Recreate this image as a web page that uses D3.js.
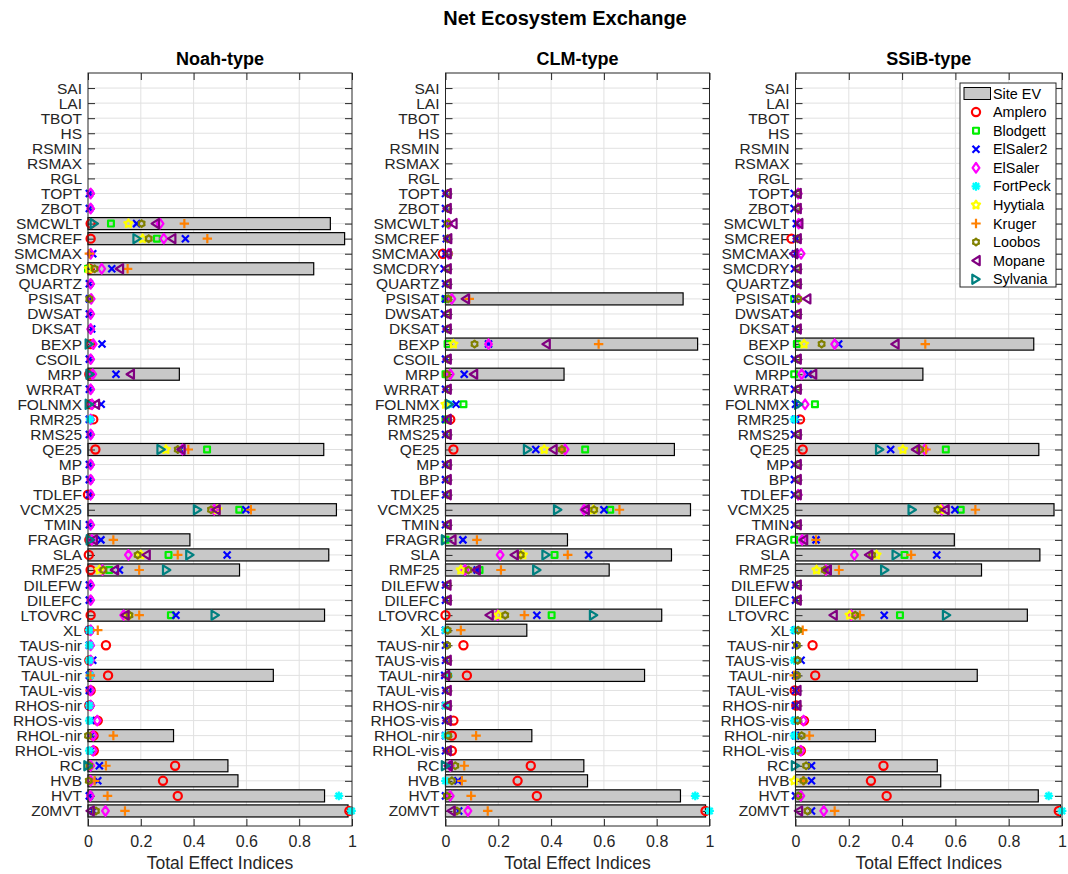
<!DOCTYPE html>
<html>
<head>
<meta charset="utf-8">
<script src="https://cdn.jsdelivr.net/npm/d3@7"></script>
<style>
  html, body { margin: 0; padding: 0; background: #fff; }
  svg { display: block; font-family: "Liberation Sans", Arial, Helvetica, sans-serif; }
</style>
</head>
<body>
<svg id="chart" width="1068" height="874"></svg>
<script>
// Parameter names, top to bottom
const categories = ["SAI","LAI","TBOT","HS","RSMIN","RSMAX","RGL","TOPT","ZBOT","SMCWLT","SMCREF","SMCMAX","SMCDRY","QUARTZ","PSISAT","DWSAT","DKSAT","BEXP","CSOIL","MRP","WRRAT","FOLNMX","RMR25","RMS25","QE25","MP","BP","TDLEF","VCMX25","TMIN","FRAGR","SLA","RMF25","DILEFW","DILEFC","LTOVRC","XL","TAUS-nir","TAUS-vis","TAUL-nir","TAUL-vis","RHOS-nir","RHOS-vis","RHOL-nir","RHOL-vis","RC","HVB","HVT","Z0MVT"];
// Parameters that carry index values (TOPT .. Z0MVT); SAI..RGL have none
const valuedParams = categories.slice(categories.indexOf("TOPT"));

const sites = ["Amplero","Blodgett","ElSaler2","ElSaler","FortPeck","Hyytiala","Kruger","Loobos","Mopane","Sylvania"];
const siteColors = ["#ff0000","#00ee00","#0000ff","#ff00ff","#00ffff","#ffff00","#ff8000","#808000","#800080","#008080"];
const siteMarkers = ["circle","square","x","diamond","asterisk","pentagram","plus","hexagram","triangleLeft","triangleRight"];
const panelTitles = ["Noah-type","CLM-type","SSiB-type"];
const xTicks = [0, 0.2, 0.4, 0.6, 0.8, 1];

// ---- Noah-type ----
const noahEV = [0,0,0.918,0.972,0,0.855,0,0,0,0, 0,0,0.346,0,0,0,0,0.893,0,0, 0,0.941,0,0.386,0.912,0.574,0,0,0.896,0, 0,0,0.702,0,0,0,0.324,0,0.530,0.568, 0.896,0.985];
const noahAmplero = [null,null,0.01,0.01,null,0.005,null,null,null,null, 0.01,null,0.005,null,0.01,0.02,null,0.028,null,null, 0.0,null,null,0.005,0.003,0.01,null,null,0.01,0.005, 0.068,0.005,0.076,0.01,0.005,0.037,0.021,0.022,0.33,0.284, 0.34,0.99];
const noahBlodgett = [null,null,0.087,0.261,null,0.0,null,null,null,null, null,null,null,null,null,null,null,0.451,null,null, null,0.573,null,null,0.305,0.08,null,null,0.314,null, null,null,null,null,null,null,null,null,null,null, null,null];
const noahElSaler2 = [0.005,0.005,0.184,0.369,0.018,0.09,0.005,0.005,0.005,0.014, 0.053,0.005,0.106,0.005,0.05,0.005,0.005,0.35,0.005,0.005, 0.005,0.598,0.005,0.049,0.527,0.119,0.005,0.005,0.333,0.005, 0.005,0.018,0.005,0.005,0.005,0.01,0.01,0.01,0.043,0.037, 0.005,0.02];
const noahElSaler = [0.01,0.01,0.273,0.287,0.01,0.052,0.01,0.012,0.01,0.01, 0.02,0.01,0.018,0.01,0.015,0.01,0.01,0.358,0.01,0.01, 0.01,0.478,0.01,0.015,0.153,0.055,0.01,0.01,0.135,0.01, 0.01,0.01,0.01,0.01,0.01,0.035,0.02,0.02,0.01,0.01, 0.009,0.066];
const noahFortPeck = [null,null,null,null,null,null,null,null,null,null, null,null,null,null,null,0.008,null,null,null,null, null,null,null,null,null,null,null,null,null,0.005, 0.005,0.005,0.008,null,0.005,0.005,null,0.005,null,null, 0.95,0.998];
const noahHyytiala = [null,null,0.153,0.207,null,0.003,null,null,null,null, null,null,null,null,null,null,null,0.295,null,null, null,0.49,null,null,0.2,0.043,null,null,0.15,null, null,null,null,null,null,null,null,null,null,null, null,null];
const noahKruger = [null,null,0.365,0.452,0.005,0.15,null,null,null,null, null,null,null,null,null,null,null,0.38,null,null, null,0.617,null,0.096,0.34,0.194,null,null,0.194,0.037, null,null,0.009,null,null,null,0.096,null,0.068,0.025, 0.074,0.14];
const noahLoobos = [null,null,0.203,0.23,null,0.025,null,0.005,null,null, null,null,null,null,null,null,null,0.34,null,null, null,0.466,null,null,0.188,0.058,null,null,0.157,null, null,null,null,null,null,null,0.0,null,0.005,0.003, null,0.03];
const noahMopane = [null,null,0.255,0.317,null,0.119,null,null,null,null, null,null,0.16,null,0.028,null,null,0.352,null,null, null,0.485,null,0.02,0.22,0.1,null,null,0.14,null, null,null,null,null,null,null,null,null,null,null, null,0.008];
const noahSylvania = [null,null,0.024,0.186,null,null,null,null,null,null, 0.005,null,0.008,null,0.005,null,null,0.277,null,null, null,0.415,null,0.009,0.386,0.298,null,null,0.482,null, null,null,null,null,null,null,null,null,0.0,null, null,null];

// ---- CLM-type ----
const clmEV = [0,0,0,0,0,0,0,0.90,0,0, 0.955,0,0.449,0,0,0,0,0.867,0,0, 0,0.928,0,0.462,0.856,0.62,0,0,0.819,0.308, 0,0,0.754,0,0,0,0.327,0,0.524,0.538, 0.89,0.985];
const clmAmplero = [null,null,null,null,-0.01,null,null,null,null,null, null,null,null,null,null,0.018,null,0.03,null,null, null,null,null,null,null,null,null,null,0.0,null, 0.068,null,0.081,null,null,0.03,0.024,0.024,0.323,0.273, 0.346,0.985];
const clmBlodgett = [null,null,null,null,null,null,null,0.0,null,null, 0.008,null,0.0,null,0.068,0.0,null,0.529,null,null, null,0.624,null,0.0,0.413,0.129,null,null,0.402,null, null,null,null,null,null,null,null,null,null,null, null,null];
const clmElSaler2 = [0.0,0.0,0.0,0.003,0.0,-0.005,0.0,0.0,-0.004,0.0, 0.163,0.0,0.071,0.0,0.04,0.0,0.0,0.342,0.0,0.0, 0.0,0.6,0.0,0.066,0.542,0.12,0.0,0.0,0.346,0.0, 0.0,0.0,-0.003,0.0,0.0,0.0,0.0,0.0,0.01,0.047, 0.0,0.05];
const clmElSaler = [null,null,0.012,null,0.012,null,null,0.024,null,null, 0.163,null,0.018,null,null,null,null,0.453,null,null, null,0.525,null,null,0.207,0.074,null,null,0.197,null, null,null,null,null,null,null,null,null,0.018,null, 0.018,0.085];
const clmFortPeck = [null,null,null,null,null,null,null,null,null,null, null,null,null,null,0.012,null,null,null,null,null, null,null,null,null,null,null,null,null,null,0.0, null,null,0.01,null,0.0,null,0.0,null,null,0.0, 0.946,1.0];
const clmHyytiala = [null,null,null,null,null,null,null,null,null,null, 0.03,null,null,null,0.0,null,null,0.374,null,null, null,0.56,null,null,0.293,0.058,null,null,0.2,null, null,null,null,null,null,null,null,null,null,null, null,null];
const clmKruger = [null,null,null,null,null,null,null,0.09,null,null, 0.58,null,null,null,null,null,null,0.44,null,null, null,0.659,null,0.119,0.463,0.21,null,null,0.299,0.058, null,null,null,null,null,null,0.116,null,0.071,0.062, 0.097,0.16];
const clmLoobos = [0.008,0.008,0.008,0.008,0.012,0.008,0.008,0.01,0.008,0.008, 0.11,0.008,0.005,0.008,null,0.008,0.008,0.441,0.008,0.008, 0.008,0.563,0.008,null,0.285,0.087,0.008,0.008,0.226,0.008, 0.006,0.008,0.01,0.008,0.008,0.008,0.01,0.008,0.037,0.024, 0.005,0.043];
const clmMopane = [0.006,0.006,0.028,0.008,0.006,0.006,0.006,0.075,0.006,0.006, 0.381,0.006,0.106,0.006,null,0.006,0.006,0.407,0.006,0.006, 0.006,0.529,0.006,0.024,0.26,0.116,0.005,0.006,0.165,null, null,0.006,0.0,0.006,0.006,0.006,null,0.006,0.01,null, null,0.021];
const clmSylvania = [null,null,null,null,null,null,null,null,null,null, null,null,null,null,0.015,null,null,0.311,null,null, null,0.425,null,0.0,0.381,0.346,null,null,0.561,null, null,null,null,null,null,null,null,null,0.0,null, null,null];

// ---- SSiB-type ----
const ssibEV = [0,0,0,0,0,0,0,0,0,0, 0.894,0,0.478,0,0,0,0,0.913,0,0, 0,0.97,0,0.596,0.917,0.698,0,0,0.87,0, 0,0,0.682,0,0,0,0.30,0,0.532,0.545, 0.911,0.994];
const ssibAmplero = [null,null,null,-0.015,null,null,null,null,null,null, null,null,null,null,null,0.017,null,0.027,null,null, null,null,null,null,null,null,null,null,null,null, 0.064,null,0.074,-0.003,0.003,0.032,null,0.02,0.33,0.283, 0.342,0.988];
const ssibBlodgett = [null,null,null,null,null,null,null,-0.005,null,null, 0.005,null,-0.005,null,0.073,null,null,0.564,null,null, null,0.62,null,-0.005,0.409,0.12,null,null,0.392,null, null,null,null,null,null,null,null,null,null,null, null,null];
const ssibElSaler2 = [-0.005,-0.005,0.003,0.003,0.0,-0.004,-0.004,0.0,-0.004,0.0, 0.162,-0.004,0.048,-0.004,0.0,0.0,-0.004,0.357,-0.004,-0.004, -0.004,0.598,-0.004,0.077,0.53,0.12,0.0,0.0,0.333,0.0, 0.0,0.021,0.0,0.0,0.0,0.0,0.0,0.0,0.06,0.06, 0.0,0.06];
const ssibElSaler = [0.01,0.01,0.012,null,0.021,null,null,0.012,null,null, 0.147,null,0.023,null,0.036,null,null,0.485,null,null, 0.01,0.549,null,0.025,0.221,0.114,null,null,0.209,null, null,null,null,null,null,0.03,null,0.02,null,null, 0.02,0.106];
const ssibFortPeck = [null,null,null,null,null,null,null,null,null,null, null,null,null,null,null,-0.005,null,null,null,null, null,null,null,null,null,null,null,null,null,-0.005, null,-0.005,null,null,null,-0.005,-0.005,-0.005,null,null, 0.95,1.0];
const ssibHyytiala = [null,null,null,null,null,null,null,null,null,null, 0.032,null,null,null,null,null,null,0.403,null,null, null,0.545,null,null,0.304,0.079,null,null,0.203,null, null,null,null,null,null,null,null,null,null,-0.005, null,null];
const ssibKruger = [null,null,null,null,null,null,null,null,null,null, 0.487,null,null,null,null,null,null,0.49,null,null, null,0.675,null,0.077,0.434,0.163,null,null,0.242,0.027, null,null,-0.005,null,null,null,0.052,null,null,0.03, null,0.147];
const ssibLoobos = [0.008,0.008,null,0.008,null,0.008,0.008,0.01,0.008,0.008, 0.098,0.008,null,0.008,null,null,0.008,0.468,0.008,0.008, 0.008,0.533,0.008,null,0.287,0.11,0.008,0.008,0.224,0.01, 0.005,0.008,0.005,null,null,0.008,0.023,0.01,0.04,0.03, 0.01,0.045];
const ssibMopane = [0.006,0.006,0.012,0.006,-0.007,0.006,0.006,0.042,0.006,0.006, 0.373,0.006,0.064,0.006,null,null,0.006,0.45,0.006,0.006, 0.006,0.561,0.006,0.03,0.274,0.119,0.006,0.006,0.141,null, null,null,null,0.005,0.005,null,null,null,null,null, null,0.011];
const ssibSylvania = [null,null,null,null,null,null,null,null,null,null, null,null,null,null,0.012,null,null,0.316,null,null, null,0.438,null,null,0.378,0.335,null,null,0.567,null, null,null,null,null,null,null,null,null,0.0,null, null,null];

// Panel table assembled from the arrays above
const panels = [
  { title: panelTitles[0], ev: noahEV, series: [noahAmplero, noahBlodgett, noahElSaler2, noahElSaler, noahFortPeck, noahHyytiala, noahKruger, noahLoobos, noahMopane, noahSylvania] },
  { title: panelTitles[1], ev: clmEV,  series: [clmAmplero, clmBlodgett, clmElSaler2, clmElSaler, clmFortPeck, clmHyytiala, clmKruger, clmLoobos, clmMopane, clmSylvania] },
  { title: panelTitles[2], ev: ssibEV, series: [ssibAmplero, ssibBlodgett, ssibElSaler2, ssibElSaler, ssibFortPeck, ssibHyytiala, ssibKruger, ssibLoobos, ssibMopane, ssibSylvania] }
];

// ---- layout ----
const plotTop = 73, plotBottom = 826;
const panelX = [[88, 352], [445.5, 709.5], [795.5, 1062]];
const axisColor = "#262626";
const gridColor = "#e1e1e1";

// star outline helper
function starPath(points, rOuter, rInner) {
  const pts = [];
  for (let i = 0; i < points * 2; i++) {
    const r = i % 2 === 0 ? rOuter : rInner;
    const a = -Math.PI / 2 + i * Math.PI / points;
    pts.push([r * Math.cos(a), r * Math.sin(a)]);
  }
  return "M" + pts.map(p => p[0].toFixed(2) + "," + p[1].toFixed(2)).join("L") + "Z";
}
const markerPaths = {
  circle: "M4.1,0A4.1,4.1 0 1,1 -4.1,0A4.1,4.1 0 1,1 4.1,0Z",
  square: "M-2.9,-2.9H2.9V2.9H-2.9Z",
  x: "M-3.5,-3.5L3.5,3.5M-3.5,3.5L3.5,-3.5",
  diamond: "M0,-4.8L3.4,0L0,4.8L-3.4,0Z",
  asterisk: "M0,-4.4V4.4M-4.4,0H4.4M-3.2,-3.2L3.2,3.2M-3.2,3.2L3.2,-3.2",
  pentagram: starPath(5, 4.3, 2.3),
  plus: "M0,-4.7V4.7M-4.7,0H4.7",
  hexagram: starPath(6, 3.4, 2.6),
  triangleLeft: "M-3.7,0L3.7,-4.6L3.7,4.6Z",
  triangleRight: "M3.7,0L-3.7,-4.6L-3.7,4.6Z"
};

const svg = d3.select("#chart");

// Figure title
svg.append("text")
  .attr("x", 565).attr("y", 24.5)
  .attr("text-anchor", "middle")
  .attr("font-size", "20px").attr("font-weight", "bold").attr("fill", "#000")
  .text("Net Ecosystem Exchange");

// Row positions: rows sit at 1..49 on a 0..50 axis
const yLin = d3.scaleLinear().domain([0, categories.length + 1]).range([plotTop, plotBottom]);
const y = d3.scalePoint().domain(categories).range([yLin(1), yLin(categories.length)]).padding(0);
const barH = (yLin(1) - yLin(0)) * 0.8;

panels.forEach((panel, pi) => {
  const [x0, x1] = panelX[pi];
  const x = d3.scaleLinear().domain([0, 1]).range([x0, x1]);
  const g = svg.append("g");

  // grid
  const grid = g.append("g").attr("stroke", gridColor).attr("stroke-width", 1);
  grid.selectAll("line.v").data(xTicks.slice(1, -1)).join("line")
    .attr("x1", d => x(d)).attr("x2", d => x(d))
    .attr("y1", plotTop).attr("y2", plotBottom);
  grid.selectAll("line.h").data(categories).join("line")
    .attr("x1", x0).attr("x2", x1)
    .attr("y1", d => y(d)).attr("y2", d => y(d));

  // site EV bars
  const evData = valuedParams.map((p, j) => ({ p, v: panel.ev[j] })).filter(d => d.v > 0);
  g.append("g").selectAll("rect").data(evData).join("rect")
    .attr("x", x(0)).attr("y", d => y(d.p) - barH / 2)
    .attr("width", d => x(d.v) - x(0)).attr("height", barH)
    .attr("fill", "#c8c8c8").attr("stroke", "#000").attr("stroke-width", 1.2);

  // axes (ticks point inward)
  const yAxisL = g.append("g").attr("transform", `translate(${x0},0)`)
    .call(d3.axisLeft(y).tickSizeInner(-7).tickSizeOuter(0).tickPadding(6));
  yAxisL.select(".domain").remove();
  yAxisL.selectAll(".tick line").attr("stroke", axisColor);
  yAxisL.selectAll(".tick text").attr("font-size", "15.5px").attr("fill", axisColor)
    .attr("font-family", "'Liberation Sans', Arial, Helvetica, sans-serif");

  const yAxisR = g.append("g").attr("transform", `translate(${x1},0)`)
    .call(d3.axisRight(y).tickSizeInner(-7).tickSizeOuter(0).tickFormat(""));
  yAxisR.select(".domain").remove();
  yAxisR.selectAll(".tick line").attr("stroke", axisColor);

  const xAxisB = g.append("g").attr("transform", `translate(0,${plotBottom})`)
    .call(d3.axisBottom(x).tickValues(xTicks).tickFormat(d3.format("~g")).tickSizeInner(-7).tickSizeOuter(0).tickPadding(10));
  xAxisB.select(".domain").remove();
  xAxisB.selectAll(".tick line").attr("stroke", axisColor);
  xAxisB.selectAll(".tick text").attr("font-size", "16px").attr("fill", axisColor)
    .attr("font-family", "'Liberation Sans', Arial, Helvetica, sans-serif");

  const xAxisT = g.append("g").attr("transform", `translate(0,${plotTop})`)
    .call(d3.axisTop(x).tickValues(xTicks).tickFormat("").tickSizeInner(-7).tickSizeOuter(0));
  xAxisT.select(".domain").remove();
  xAxisT.selectAll(".tick line").attr("stroke", axisColor);

  // site markers, drawn in legend order
  panel.series.forEach((vals, si) => {
    const pts = valuedParams.map((p, j) => ({ p, v: vals[j] })).filter(d => d.v !== null && d.v !== undefined);
    g.append("g").selectAll("path").data(pts).join("path")
      .attr("transform", d => `translate(${x(d.v)},${y(d.p)})`)
      .attr("d", markerPaths[siteMarkers[si]])
      .attr("fill", "none")
      .attr("stroke", siteColors[si])
      .attr("stroke-width", 2.2)
      .attr("stroke-linejoin", "round");
  });

  // box
  g.append("rect").attr("x", x0).attr("y", plotTop)
    .attr("width", x1 - x0).attr("height", plotBottom - plotTop)
    .attr("fill", "none").attr("stroke", axisColor).attr("stroke-width", 1);

  // panel title and x label
  g.append("text").attr("x", (x0 + x1) / 2).attr("y", 65)
    .attr("text-anchor", "middle").attr("font-size", "18px").attr("font-weight", "bold").attr("fill", "#000")
    .text(panel.title);
  g.append("text").attr("x", (x0 + x1) / 2).attr("y", 868.5)
    .attr("text-anchor", "middle").attr("font-size", "17.5px").attr("fill", axisColor)
    .text("Total Effect Indices");
});

// Legend (inside the SSiB panel)
const lg = svg.append("g");
const lgX = 960, lgY = 83, lgW = 96, lgH = 204, lgRow = 18.57, lgFirst = 93.5;
lg.append("rect").attr("x", lgX).attr("y", lgY).attr("width", lgW).attr("height", lgH)
  .attr("fill", "#fff").attr("stroke", axisColor).attr("stroke-width", 1);
lg.append("rect").attr("x", 964).attr("y", lgFirst - 6).attr("width", 26.5).attr("height", 12)
  .attr("fill", "#c8c8c8").attr("stroke", "#000").attr("stroke-width", 1);
lg.append("text").attr("x", 993).attr("y", lgFirst).attr("dy", "0.35em")
  .attr("font-size", "14.4px").attr("fill", "#000").text("Site EV");
sites.forEach((s, i) => {
  const cy = lgFirst + (i + 1) * lgRow;
  lg.append("path").attr("transform", `translate(976,${cy})`)
    .attr("d", markerPaths[siteMarkers[i]])
    .attr("fill", "none").attr("stroke", siteColors[i]).attr("stroke-width", 2.2)
    .attr("stroke-linejoin", "round");
  lg.append("text").attr("x", 993).attr("y", cy).attr("dy", "0.35em")
    .attr("font-size", "14.4px").attr("fill", "#000").text(s);
});
</script>
</body>
</html>
